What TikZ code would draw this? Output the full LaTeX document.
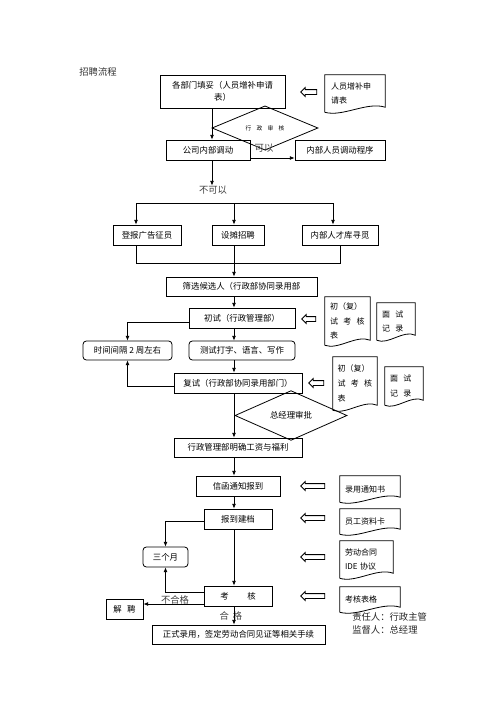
\documentclass[tikz,border=0pt]{standalone}
\usepackage{fontspec}
\setmainfont{Noto Sans CJK SC}
\usetikzlibrary{arrows.meta,shapes.geometric,shapes.arrows,calc}
\newdimen\pxu \pxu=0.75pt
\newcommand\gapsp{\hspace{4pt}}
\newcommand\docoutline[1]{%
  \draw[ln] (#1.south west) -- (#1.north west) -- (#1.north east) -- ($(#1.south east)+(0,-5)$)
    .. controls ($(#1.south west)!0.7!(#1.south east)+(0,-11)$) and ($(#1.south west)!0.3!(#1.south east)+(0,5)$) .. (#1.south west);}
\begin{document}
\begin{tikzpicture}[x=0.75pt,y=-0.75pt,
  every node/.style={inner sep=0pt},
  ln/.style={line width=0.6pt},
  box/.style={draw, line width=0.6pt, align=center, font=\fontsize{6.3}{9}\selectfont},
  rbox/.style={box, rounded corners=2.5pt},
  doc/.style={align=left, font=\fontsize{6}{11}\selectfont},
  lbl/.style={font=\fontsize{7}{9}\selectfont, text=black!75},
  harrow/.style={single arrow, draw, line width=0.6pt, shape border rotate=180,
    inner xsep=0pt, inner ysep=1.5pt, single arrow head extend=1.5pt, minimum width=6pt},
  arr/.style={-{Latex[length=3.5pt,width=3pt]}, line width=0.6pt},
  dia/.style={diamond, draw, line width=0.6pt, inner sep=0pt}
]
\useasboundingbox (0,0) rectangle (500,707);

% title
\node[lbl, text=black!80] (title) at (98,72) {招聘流程};

% top part
\node[box, minimum width=125\pxu, minimum height=33\pxu] (b1) at (222.5,91.5) {各部门填妥（人员增补申请\\表）};
\node[doc, minimum width=60\pxu, minimum height=37\pxu, text width=48\pxu] (d1) at (355,93.5) {人员增补申\\请表};
\docoutline{d1}
\node[harrow, minimum height=16\pxu] (h1) at (310,92) {};

\node[dia, minimum width=106\pxu, minimum height=27\pxu, font=\fontsize{4.3}{5}\selectfont] (dia1) at (265,128) {行\gapsp 政\gapsp 审\gapsp 核};
\node[box, minimum width=84\pxu, minimum height=20\pxu] (inner) at (208,150) {公司内部调动};
\node[lbl] (ky) at (264,148) {可以};
\node[box, minimum width=90\pxu, minimum height=20\pxu] (proc) at (340,150) {内部人员调动程序};
\node[lbl] (nk) at (213,190) {不可以};

\coordinate (v1) at (212,0);
\coordinate (yk) at (0,158);
\draw[arr] (b1.south -| v1) -- (inner.north -| v1);
\draw[arr] (inner.east |- yk) -- (proc.west |- yk);
\draw[arr] (inner.south -| v1) -- (nk.north -| v1);

% three channels
\node[box, minimum width=68\pxu, minimum height=20\pxu] (ad) at (147,235) {登报广告征员};
\node[box, minimum width=52\pxu, minimum height=20\pxu] (booth) at (238,235) {设摊招聘};
\node[box, minimum width=76\pxu, minimum height=20\pxu] (pool) at (340,235) {内部人才库寻觅};

\coordinate (c136) at (136,0);
\coordinate (c234) at (234,0);
\coordinate (c333) at (333,0);
\coordinate (c340) at (340,0);
\coordinate (bus1) at (0,203);
\coordinate (bus2) at (0,263);
\draw[ln] (c136 |- bus1) -- (c333 |- bus1);
\draw[arr] (c136 |- bus1) -- (ad.north -| c136);
\draw[arr] (c234 |- bus1) -- (booth.north -| c234);
\draw[arr] (c333 |- bus1) -- (pool.north -| c333);
\draw[ln] (ad.south -| c136) -- (c136 |- bus2) -- (c340 |- bus2) -- (pool.south -| c340);

% screening and interviews
\node[box, minimum width=151\pxu, minimum height=19\pxu] (screen) at (241.5,286.5) {筛选候选人（行政部协同录用部};
\node[box, minimum width=106\pxu, minimum height=20\pxu] (first) at (242,318) {初试（行政管理部）};
\node[harrow, minimum height=14\pxu] (h2) at (310,319) {};
\node[doc, minimum width=45\pxu, minimum height=48\pxu, text width=35\pxu] (d2) at (347.5,321) {初（复）\\试\gapsp 考\gapsp 核\\表};
\docoutline{d2}
\node[doc, minimum width=38\pxu, minimum height=37\pxu, text width=28\pxu] (d3) at (396,321.5) {面\gapsp 试\\记\gapsp 录};
\docoutline{d3}

\node[rbox, minimum width=89\pxu, minimum height=19\pxu] (gap) at (127.5,350.5) {时间间隔 2 周左右};
\node[rbox, minimum width=106\pxu, minimum height=19\pxu] (test) at (242,350.5) {测试打字、语言、写作};

\node[box, minimum width=128\pxu, minimum height=20\pxu] (second) at (238,383) {复试（行政部协同录用部门）};
\node[harrow, minimum height=15\pxu] (h3) at (317.5,383) {};
\node[doc, minimum width=44\pxu, minimum height=53\pxu, text width=35\pxu] (d4) at (355,383.5) {初（复）\\试\gapsp 考\gapsp 核\\表};
\docoutline{d4}
\node[doc, minimum width=38\pxu, minimum height=38\pxu, text width=28\pxu] (d5) at (404,386) {面\gapsp 试\\记\gapsp 录};
\docoutline{d5}

\node[dia, minimum width=112\pxu, minimum height=33\pxu, font=\fontsize{6.3}{8}\selectfont] (dia2) at (291,415.5) {总经理审批};
\node[box, minimum width=128\pxu, minimum height=19\pxu] (wage) at (238,447.5) {行政管理部明确工资与福利};

\coordinate (y322) at (0,322);
\coordinate (y386) at (0,386);
\draw[arr] (booth.south -| c234) -- (screen.north -| c234);
\draw[arr] (screen.south -| c234) -- (first.north -| c234);
\draw[arr] (first.south -| c234) -- (test.north -| c234);
\draw[arr] (test.south -| c234) -- (second.north -| c234);
\draw[arr] (second.south -| c234) -- (wage.north -| c234);
\draw[arr] (first.west |- y322) -| (gap.north);
\draw[arr] (second.west |- y386) -| (gap.south);

% onboarding
\node[box, minimum width=84\pxu, minimum height=20\pxu] (letter) at (238,486) {信函通知报到};
\node[harrow, minimum height=24\pxu] (h4) at (314,486) {};
\node[doc, minimum width=60\pxu, minimum height=26\pxu, text width=50\pxu] (d6) at (370,489) {录用通知书};
\docoutline{d6}

\node[box, minimum width=68\pxu, minimum height=20\pxu] (file) at (238,519) {报到建档};
\node[harrow, minimum height=24\pxu] (h5) at (314,518) {};
\node[doc, minimum width=60\pxu, minimum height=25\pxu, text width=50\pxu] (d7) at (370,521.5) {员工资料卡};
\docoutline{d7}

\node[rbox, minimum width=45\pxu, minimum height=20\pxu] (three) at (165.5,557) {三个月};
\node[harrow, minimum height=24\pxu] (h6) at (314,557) {};
\node[doc, minimum width=53\pxu, minimum height=37\pxu, text width=43\pxu] (d8) at (366.5,559.5) {劳动合同\\IDE 协议};
\docoutline{d8}

\node[box, minimum width=68\pxu, minimum height=20\pxu] (exam) at (238,596) {考\hspace{14pt}核};
\node[harrow, minimum height=24\pxu] (h7) at (314,596) {};
\node[doc, minimum width=60\pxu, minimum height=25\pxu, text width=50\pxu] (d9) at (370,599.5) {考核表格};
\docoutline{d9}

\node[box, minimum width=37\pxu, minimum height=20\pxu] (fire) at (124.5,609) {解\gapsp 聘};
\node[lbl] (fail) at (175,600) {不合格};
\node[lbl] (pass) at (231,616) {合\hspace{3pt}格};
\node[box, minimum width=173\pxu, minimum height=19\pxu] (formal) at (238.5,634.5) {正式录用，签定劳动合同见证等相关手续};

\node[lbl, anchor=west, text=black!85] (resp) at (352,617) {责任人：行政主管};
\node[lbl, anchor=west, text=black!85] (sup) at (352,630) {监督人：总经理};

\coordinate (y521) at (0,521);
\coordinate (y592) at (0,592);
\coordinate (y604) at (0,604);
\draw[arr] (wage.south -| c234) -- (letter.north -| c234);
\draw[arr] (letter.south -| c234) -- (file.north -| c234);
\draw[arr] (file.south -| c234) -- (exam.north -| c234);
\draw[arr] (exam.south -| c234) -- (formal.north -| c234);
\draw[arr] (file.west |- y521) -| (three.north);
\draw[arr] (exam.west |- y592) -| (three.south);
\draw[arr] (exam.west |- y604) -- (fire.east |- y604);
\end{tikzpicture}
\end{document}
